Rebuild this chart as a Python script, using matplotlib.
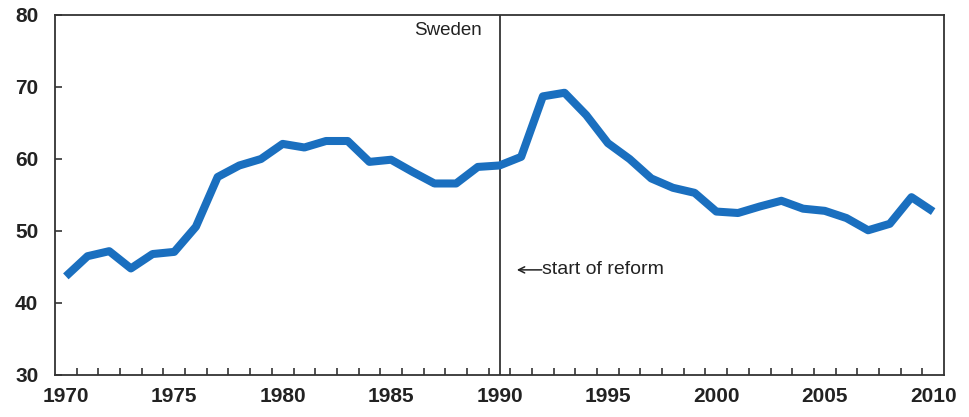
import matplotlib
matplotlib.use("Agg")
import matplotlib.pyplot as plt
import numpy as np

years = list(range(1970, 2011))
values = [43.7, 46.5, 47.2, 44.8, 46.8, 47.1, 50.6, 57.5, 59.1, 60.0,
          62.1, 61.6, 62.5, 62.5, 59.6, 59.9, 58.2, 56.6, 56.6, 58.9,
          59.1, 60.3, 68.7, 69.2, 66.1, 62.2, 60.0, 57.3, 56.0, 55.3,
          52.7, 52.5, 53.4, 54.2, 53.1, 52.8, 51.8, 50.1, 51.0, 54.7, 52.7]
xtick_labels = [1970, 1975, 1980, 1985, 1990, 1995, 2000, 2005, 2010]
yticks = [30, 40, 50, 60, 70, 80]
reform_year = 1990
country = "Sweden"
annotation = "start of reform"

plt.rcParams['font.family'] = ['Liberation Sans', 'DejaVu Sans']

fig = plt.figure(figsize=(9.69, 4.17), dpi=100)
ax = fig.add_axes([55/969, 42/417, (944-55)/969, (375-15)/417])

ax.plot(years, values, color='#1a6fbf', lw=5.8, solid_joinstyle='round', solid_capstyle='butt', zorder=3)
ax.axvline(reform_year, color='#222222', lw=1.2, zorder=2)

ax.set_xlim(years[0] - 0.5, years[-1] + 0.5)
ax.set_ylim(30, 80)

ax.set_yticks(yticks)
ax.set_yticklabels([str(v) for v in yticks])
ax.set_xticks(xtick_labels)
ax.set_xticklabels([str(v) for v in xtick_labels])
ax.set_xticks(np.arange(years[0] + 0.5, years[-1]), minor=True)

ax.tick_params(axis='y', direction='in', length=5, width=1.2, color='#333333',
               labelsize=15, pad=12, labelcolor='#222222')
ax.tick_params(axis='x', which='major', length=0, labelsize=15, pad=9, labelcolor='#222222')
ax.tick_params(axis='x', which='minor', direction='in', length=5, width=1.2, color='#333333')
for lab in ax.get_xticklabels() + ax.get_yticklabels():
    lab.set_fontweight('bold')

for s in ax.spines.values():
    s.set_color('#333333')
    s.set_linewidth(1.3)

ax.text(reform_year - 0.8, 77.9, country, ha='right', va='center', fontsize=13.5, color='#222222')
ax.text(reform_year + 1.95, 44.7, annotation, ha='left', va='center', fontsize=14, color='#222222')
ax.annotate('', xy=(reform_year + 0.8, 44.6), xytext=(reform_year + 1.95, 44.6),
            arrowprops=dict(arrowstyle='->', color='#222222', lw=1.1,
                            shrinkA=0, shrinkB=0, mutation_scale=11))

fig.savefig('out.png', dpi=100)
